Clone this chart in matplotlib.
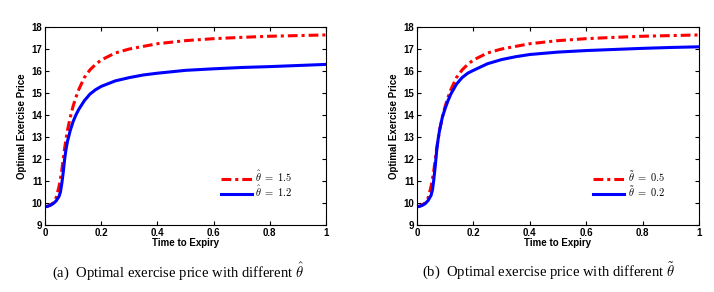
import matplotlib
matplotlib.use("Agg")
import matplotlib.pyplot as plt

plt.rcParams['mathtext.fontset'] = 'cm'

t = [0.0, 0.01, 0.02, 0.03, 0.04, 0.05, 0.055, 0.06, 0.065, 0.07, 0.075, 0.08, 0.09, 0.1, 0.11,
     0.12, 0.14, 0.16, 0.18, 0.2, 0.25, 0.3, 0.35, 0.4, 0.5, 0.6, 0.7, 0.8, 0.9, 1.0]

red_a = [9.83, 9.86, 9.92, 10.02, 10.25, 10.75, 11.1, 11.5, 12.0, 12.5, 12.9, 13.3, 13.9, 14.4, 14.8,
         15.15, 15.7, 16.05, 16.3, 16.5, 16.82, 17.0, 17.12, 17.24, 17.38, 17.47, 17.53, 17.58, 17.61, 17.64]
blue_a = [9.82, 9.85, 9.9, 9.98, 10.1, 10.3, 10.5, 10.9, 11.4, 12.0, 12.45, 12.8, 13.3, 13.7, 14.0,
          14.25, 14.65, 14.95, 15.15, 15.3, 15.55, 15.7, 15.82, 15.9, 16.03, 16.1, 16.16, 16.2, 16.25, 16.3]

red_b = red_a
blue_b = [9.82, 9.85, 9.9, 9.98, 10.12, 10.35, 10.6, 11.1, 11.7, 12.4, 12.9, 13.3, 13.9, 14.3, 14.65,
          14.95, 15.4, 15.7, 15.9, 16.03, 16.33, 16.52, 16.65, 16.75, 16.86, 16.93, 16.98, 17.03, 17.07, 17.1]

labels_a = [r'$\hat{\theta}\ =\ 1.5$', r'$\hat{\theta}\ =\ 1.2$']
labels_b = [r'$\tilde{\theta}\ =\ 0.5$', r'$\tilde{\theta}\ =\ 0.2$']
captions = [r'(a)  Optimal exercise price with different $\hat{\theta}$',
            r'(b)  Optimal exercise price with different $\tilde{\theta}$']
xticks = [0, 0.2, 0.4, 0.6, 0.8, 1]
xticklabels = ['0', '0.2', '0.4', '0.6', '0.8', '1']
yticks = list(range(9, 19))

fig = plt.figure(figsize=(7.14, 2.92), dpi=100)
axes = [fig.add_axes([0.063, 0.2295, 0.3936, 0.678]),
        fig.add_axes([0.584, 0.2295, 0.395, 0.678])]

sans = 'Liberation Sans'
data = [(red_a, blue_a, labels_a), (red_b, blue_b, labels_b)]
for ax, (r, b, labs), cap, cx in zip(axes, data, captions, [0.249, 0.768]):
    ax.plot(t, r, color='red', linestyle=(0, (3.2, 1.3, 1, 1.3)), linewidth=2.2, label=labs[0])
    ax.plot(t, b, color='blue', linestyle='-', linewidth=2.2, label=labs[1])
    ax.set_xlim(0, 1)
    ax.set_ylim(9, 18)
    ax.set_xticks(xticks)
    ax.set_xticklabels(xticklabels)
    ax.set_yticks(yticks)
    ax.tick_params(direction='in', top=True, right=True, length=3, width=0.8, labelsize=7, pad=2)
    for lab in ax.get_xticklabels() + ax.get_yticklabels():
        lab.set_fontweight('bold')
        lab.set_family(sans)
    ax.set_xlabel('Time to Expiry', fontsize=7, fontweight='bold', family=sans, labelpad=0)
    ax.set_ylabel('Optimal Exercise Price', fontsize=7, fontweight='bold', family=sans, labelpad=3)
    for s in ax.spines.values():
        s.set_linewidth(0.8)
    leg = ax.legend(loc='lower left', bbox_to_anchor=(0.625, 0.13), frameon=False, fontsize=7.5,
                    handlelength=3.0, handletextpad=0.3, labelspacing=0.0, borderaxespad=0.0,
                    borderpad=0.0)
    fig.text(cx, 0.072, cap, ha='center', va='center', fontsize=10.5, family='Liberation Serif')

fig.savefig('out.png', dpi=100)
